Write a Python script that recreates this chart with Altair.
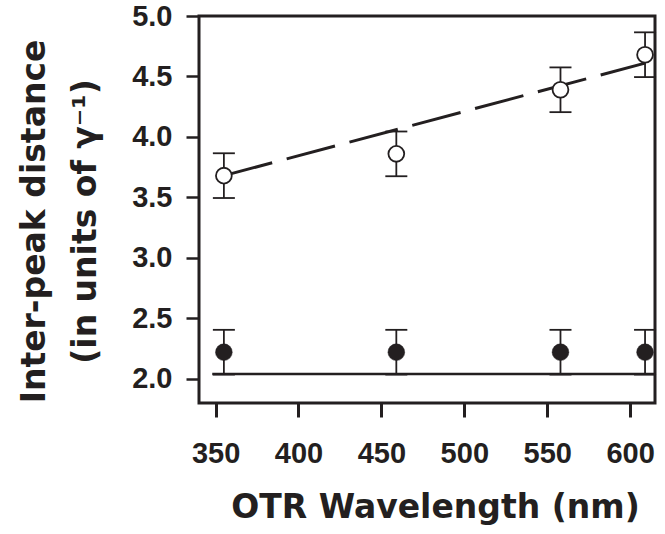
import altair as alt
import pandas as pd

# ---- data ----
wavelength = [355, 459, 558, 609]
open_vals = [3.68, 3.86, 4.39, 4.68]
open_err = [0.185, 0.185, 0.185, 0.185]
filled_vals = [2.22, 2.22, 2.22, 2.22]
filled_err = [0.185, 0.185, 0.185, 0.185]

fit_x = [355, 609]
fit_y = [3.68, 4.61]
base_x = [348, 615]
base_y = [2.04, 2.04]

x_ticks = [350, 400, 450, 500, 550, 600]
y_ticks = [2.0, 2.5, 3.0, 3.5, 4.0, 4.5, 5.0]

INK = "#231f20"

open_df = pd.DataFrame({
    "x": wavelength,
    "y": open_vals,
    "lo": [v - e for v, e in zip(open_vals, open_err)],
    "hi": [v + e for v, e in zip(open_vals, open_err)],
})
filled_df = pd.DataFrame({
    "x": wavelength,
    "y": filled_vals,
    "lo": [v - e for v, e in zip(filled_vals, filled_err)],
    "hi": [v + e for v, e in zip(filled_vals, filled_err)],
})
fit_df = pd.DataFrame({"x": fit_x, "y": fit_y})
base_df = pd.DataFrame({"x": base_x, "y": base_y})

xscale = alt.Scale(domain=[340, 615], nice=False, zero=False)
yscale = alt.Scale(domain=[1.8, 5.0], nice=False, zero=False)

xax = alt.Axis(
    values=x_ticks, title="OTR Wavelength (nm)", grid=False, domain=False,
    tickSize=14, tickWidth=3, tickColor=INK,
    labelFont="Liberation Sans", labelFontWeight="bold", labelFontSize=29,
    labelColor=INK, labelPadding=22,
    titleFont="DejaVu Sans", titleFontWeight="bold", titleFontSize=33,
    titleColor=INK, titlePadding=23, titleX=236,
)
yax = alt.Axis(
    values=y_ticks, format=".1f",
    title=["Inter-peak distance", "(in units of γ⁻¹)"],
    grid=False, domain=False,
    tickSize=13, tickWidth=2.5, tickColor=INK,
    labelFont="Liberation Sans", labelFontWeight="bold", labelFontSize=29,
    labelColor=INK, labelPadding=14,
    titleFont="DejaVu Sans", titleFontWeight="bold", titleFontSize=33,
    titleColor=INK, titleLineHeight=51, titlePadding=29, titleY=205,
)

X = alt.X("x:Q", scale=xscale, axis=xax)
Y = alt.Y("y:Q", scale=yscale, axis=yax)

fit_line = alt.Chart(fit_df).mark_line(
    color=INK, strokeWidth=3, strokeDash=[50, 15]
).encode(x=X, y=Y)

base_line = alt.Chart(base_df).mark_line(
    color=INK, strokeWidth=2.5
).encode(x=alt.X("x:Q", scale=xscale), y=alt.Y("y:Q", scale=yscale))


def errbars(df):
    bars = alt.Chart(df).mark_rule(color=INK, strokeWidth=1.8).encode(
        x=alt.X("x:Q", scale=xscale),
        y=alt.Y("lo:Q", scale=yscale),
        y2="hi:Q",
    )
    cap_hi = alt.Chart(df).mark_tick(
        orient="horizontal", color=INK, size=22, thickness=1.8, opacity=1
    ).encode(x=alt.X("x:Q", scale=xscale), y=alt.Y("hi:Q", scale=yscale))
    cap_lo = alt.Chart(df).mark_tick(
        orient="horizontal", color=INK, size=22, thickness=1.8, opacity=1
    ).encode(x=alt.X("x:Q", scale=xscale), y=alt.Y("lo:Q", scale=yscale))
    return bars + cap_hi + cap_lo


open_pts = alt.Chart(open_df).mark_point(
    shape="circle", filled=True, fill="white", stroke=INK,
    strokeWidth=1.8, size=250, opacity=1
).encode(x=alt.X("x:Q", scale=xscale), y=alt.Y("y:Q", scale=yscale))

filled_pts = alt.Chart(filled_df).mark_point(
    shape="circle", filled=True, fill=INK, stroke=INK,
    strokeWidth=0.5, size=280, opacity=1
).encode(x=alt.X("x:Q", scale=xscale), y=alt.Y("y:Q", scale=yscale))

chart = alt.layer(
    fit_line, base_line, errbars(open_df), errbars(filled_df),
    open_pts, filled_pts,
).properties(
    width=456, height=387,
    autosize=alt.AutoSizeParams(type="none"),
    padding={"left": 199, "top": 16, "right": 10, "bottom": 131},
).configure(
    background="white",
    view=alt.ViewConfig(stroke=INK, strokeWidth=3, fill="white"),
)

chart.save("out.html", embed_options={"renderer": "svg", "actions": False})
